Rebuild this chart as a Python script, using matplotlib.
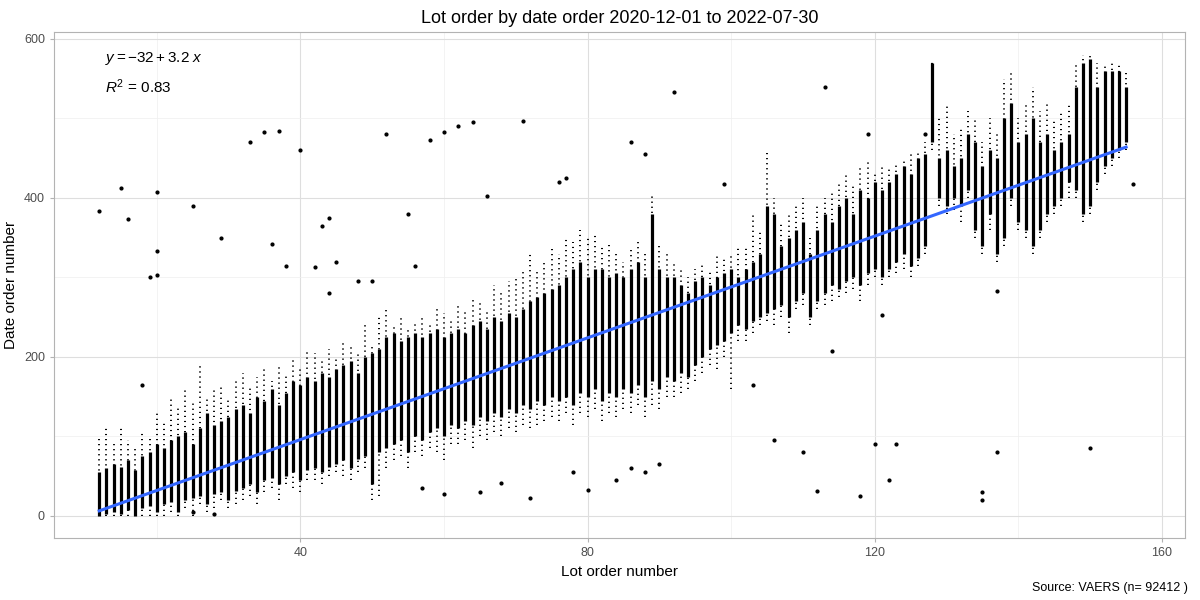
import matplotlib.pyplot as plt
import numpy as np

plt.rcParams['font.family'] = ['Liberation Sans', 'DejaVu Sans']
plt.rcParams['mathtext.fontset'] = 'custom'
plt.rcParams['mathtext.rm'] = 'Liberation Sans'
plt.rcParams['mathtext.it'] = 'Liberation Sans:italic'

# lots 12..155, band
lots = np.arange(12, 156)
dense_lo = [0,2,5,3,8,0,10,12,5,15, 18,5,20,22,25,15,28,30,20,32,
            35,40,30,45,48,40,50,55,45,58, 60,55,62,65,70,60,72,75,40,80,
            85,90,95,80,100,95,105,110,100,115, 110,120,115,125,120,130,125,135,130,140,
            135,145,140,150,145,150,140,155,150,160, 145,155,150,160,155,165,150,170,160,175,
            170,180,175,190,200,210,215,220,230,240, 235,245,250,255,260,265,250,270,280,250,
            270,280,290,285,295,300,290,305,310,300, 310,320,330,315,325,340,470,400,390,400,
            390,410,360,340,380,330,350,400,370,360, 340,360,380,390,400,420,410,380,390,420,
            440,450,460,470]
dense_hi = [55,60,65,62,70,58,75,80,90,85, 95,100,105,90,110,130,115,120,125,135,
            140,130,150,145,160,140,155,170,165,175, 170,180,175,185,190,195,180,200,205,210,
            225,230,220,225,230,225,230,235,225,230, 235,230,240,245,235,250,245,255,250,260,
            270,275,280,285,290,300,310,320,300,310, 310,300,305,300,310,320,300,380,310,300,
            300,290,280,295,300,290,300,305,310,300, 310,320,330,390,380,340,350,360,370,330,
            360,380,370,390,400,380,410,400,420,410, 420,430,440,430,450,455,570,450,460,440,
            450,480,470,440,460,450,500,520,470,480, 500,470,480,460,470,480,540,570,575,540,
            560,560,560,540]
sparse_lo = [0,0,0,0,0,0,0,0,0,0, 5,0,10,0,15,5,10,20,10,15,
             20,25,15,30,35,20,40,35,30,45, 45,40,50,55,50,45,55,60,20,25,
             60,70,75,60,80,75,85,80,70,90, 90,95,85,100,95,105,100,110,105,115,
             110,115,120,125,120,130,115,130,125,135, 120,130,125,135,130,140,125,140,135,150,
             150,155,160,170,180,190,185,200,160,220, 220,230,240,245,240,250,230,260,265,240,
             260,265,270,275,280,285,270,290,300,290, 300,305,310,300,315,330,460,390,380,385,
             370,400,350,330,360,320,340,390,360,350, 330,350,370,380,390,400,400,370,380,410,
             430,440,450,460]
sparse_hi = [100,110,90,115,95,85,105,100,130,120, 150,140,160,145,190,150,160,165,150,170,
             180,165,175,185,170,190,180,200,185,210, 205,195,210,200,220,215,205,240,215,250,
             260,240,250,235,245,250,240,260,255,245, 265,260,275,270,260,290,280,295,300,310,
             330,310,320,340,330,350,345,360,350,355, 340,345,330,320,335,345,330,405,340,330,
             320,310,300,310,320,310,330,325,330,340, 340,380,360,460,400,370,380,390,400,350,
             390,400,410,420,430,415,440,445,430,440, 440,445,450,455,460,470,575,500,520,480,
             490,510,500,470,500,480,550,560,500,520, 540,510,520,500,510,520,570,580,578,570,
             570,570,570,560]

out_x = [12,15,16,18,19,20,20,20,25,29,33,35,36,37,38,40,42,43,44,44,45,48,50,52,55,56,58,60,62,64,
         66,71,76,77,86,88,92,99,113,119,127,88,90,84,86,78,80,103,106,110,112,114,121,118,123,120,
         122,135,135,137,137,150,156,60,65,68,72,57,25,28]
out_y = [383,413,373,165,300,407,333,303,390,350,470,483,342,484,315,460,313,365,375,280,320,295,295,480,
         380,315,473,483,490,495,402,497,420,425,470,455,533,418,540,480,480,55,65,45,60,55,33,165,95,80,
         32,207,253,25,90,90,45,20,30,80,283,85,417,28,30,42,22,35,5,3]

fit_x = [12, 155]
intercept, slope = -32, 3.2

fig = plt.figure(figsize=(12, 6), dpi=100)
ax = fig.add_axes([0.045, 0.103, 0.9425, 0.844])

ax.vlines(lots, sparse_lo, sparse_hi, colors='black', linewidth=1.4, linestyles=(0, (0.6, 2.0)))
ax.vlines(lots, dense_lo, dense_hi, colors='black', linewidth=2.3)
ax.scatter(out_x, out_y, s=4, color='black', zorder=3)
ax.plot(fit_x, [intercept + slope * v for v in fit_x], color='#3366FF', linewidth=2.2, zorder=4)

ax.set_xlim(5.7, 163.2)
ax.set_ylim(-28, 609)
ax.set_xticks([40, 80, 120, 160])
ax.set_yticks([0, 200, 400, 600])
ax.set_xticks([20, 60, 100, 140], minor=True)
ax.set_yticks([100, 300, 500], minor=True)
ax.grid(True, which='major', color='#DEDEDE', linewidth=0.8)
ax.grid(True, which='minor', color='#EFEFEF', linewidth=0.5)
ax.set_axisbelow(True)
for s in ax.spines.values():
    s.set_color('#B3B3B3')
ax.tick_params(which='both', color='#B3B3B3', labelcolor='#4D4D4D', labelsize=9, length=3)
ax.tick_params(which='minor', length=0)

ax.set_xlabel('Lot order number', fontsize=11)
ax.set_ylabel('Date order number', fontsize=11)
ax.set_title('Lot order by date order 2020-12-01 to 2022-07-30', fontsize=13)
ax.text(0.045, 0.965, r'$y = -32 + 3.2\ x$', transform=ax.transAxes, fontsize=11, va='top')
ax.text(0.045, 0.91, r'$R^2$ = 0.83', transform=ax.transAxes, fontsize=11, va='top')
fig.text(0.99, 0.015, 'Source: VAERS (n= 92412 )', ha='right', fontsize=9)

fig.savefig('out.png')
